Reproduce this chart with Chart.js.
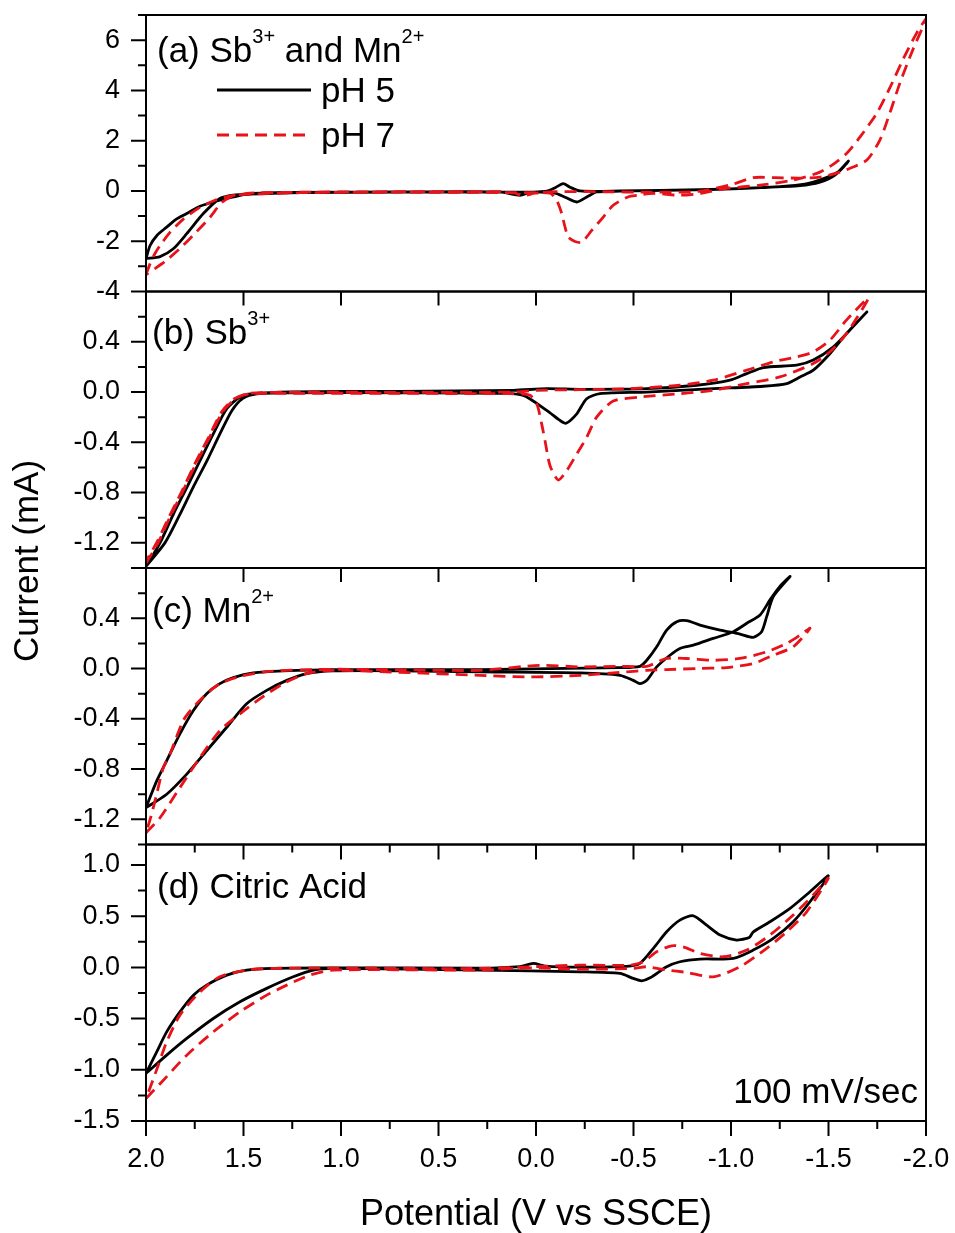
<!DOCTYPE html>
<html>
<head>
<meta charset="utf-8">
<title>Cyclic voltammograms, pH 5 and pH 7</title>
<script src="https://cdn.jsdelivr.net/npm/chart.js@4.4.0/dist/chart.umd.min.js"></script>
<style>
  html, body { margin: 0; padding: 0; background: #fff; }
  #cv { display: block; }
</style>
</head>
<body>
<canvas id="cv" width="955" height="1233"></canvas>
<script>
// Potential (V vs SSCE) and current (mA) along each voltammogram loop

// (a) Sb3+ and Mn2+
const potA5 = [2.000, 1.979, 1.944, 1.894, 1.846, 1.791, 1.723, 1.655, 1.552, 1.467, 1.262, 0.697, 0.185, 0.082, 0.031, -0.055, -0.103, -0.140, -0.174, -0.226, -0.431, -0.841, -1.149, -1.354, -1.456, -1.533, -1.602, -1.559, -1.482, -1.379, -1.251, -1.046, -0.738, -0.431, -0.311, -0.267, -0.209, -0.149, -0.097, -0.021, 0.697, 1.210, 1.467, 1.552, 1.621, 1.706, 1.791, 1.860, 1.928, 2.000];
const curA5 = [-2.69, -2.17, -1.77, -1.44, -1.13, -0.90, -0.61, -0.44, -0.24, -0.11, -0.06, -0.04, -0.04, -0.17, -0.05, -0.01, 0.15, 0.29, 0.15, 0.00, 0.00, 0.05, 0.13, 0.21, 0.35, 0.63, 1.19, 0.81, 0.51, 0.27, 0.17, 0.09, 0.03, -0.01, -0.04, -0.21, -0.44, -0.25, -0.09, -0.05, -0.05, -0.07, -0.13, -0.17, -0.30, -0.90, -1.70, -2.30, -2.61, -2.69];
const potA7 = [2.000, 1.979, 1.954, 1.928, 1.877, 1.810, 1.723, 1.646, 1.569, 1.467, 1.210, 0.697, 0.185, 0.108, 0.067, 0.005, -0.103, -0.328, -0.585, -0.841, -1.010, -1.113, -1.226, -1.354, -1.456, -1.559, -1.626, -1.697, -1.764, -1.815, -1.867, -1.933, -2.000, -1.954, -1.882, -1.815, -1.749, -1.662, -1.595, -1.533, -1.456, -1.318, -1.149, -0.978, -0.841, -0.738, -0.602, -0.523, -0.472, -0.396, -0.345, -0.286, -0.234, -0.200, -0.166, -0.149, -0.132, -0.106, -0.072, 0.031, 0.697, 1.210, 1.467, 1.544, 1.610, 1.672, 1.749, 1.826, 1.903, 1.954, 2.000];
const curA7 = [-3.33, -2.89, -2.49, -2.17, -1.65, -1.13, -0.65, -0.37, -0.21, -0.09, -0.05, -0.03, -0.03, -0.09, -0.19, -0.09, -0.03, -0.03, -0.05, -0.01, 0.27, 0.53, 0.53, 0.51, 0.55, 0.75, 0.95, 1.23, 2.03, 3.11, 4.31, 5.63, 6.83, 6.31, 5.23, 4.11, 3.11, 2.15, 1.51, 1.11, 0.75, 0.43, 0.23, 0.10, -0.10, -0.17, -0.10, -0.17, -0.24, -0.57, -1.04, -1.57, -2.04, -2.01, -1.84, -1.44, -0.90, -0.37, -0.09, -0.07, -0.05, -0.07, -0.13, -0.17, -0.45, -1.05, -1.69, -2.29, -2.81, -3.09, -3.33];

// (b) Sb3+
const potB5 = [2.000, 1.903, 1.826, 1.759, 1.687, 1.621, 1.559, 1.503, 1.431, 1.262, 0.697, 0.185, 0.065, -0.055, -0.123, -0.154, -0.209, -0.260, -0.328, -0.568, -0.909, -1.166, -1.286, -1.354, -1.422, -1.508, -1.593, -1.697, -1.610, -1.525, -1.422, -1.337, -1.166, -1.081, -0.995, -0.824, -0.568, -0.226, -0.055, 0.116, 0.697, 1.262, 1.451, 1.518, 1.586, 1.655, 1.723, 1.791, 1.860, 1.928, 2.000];
const curB5 = [-1.386, -1.200, -0.973, -0.760, -0.546, -0.333, -0.146, -0.050, -0.014, -0.006, -0.006, -0.010, -0.026, -0.146, -0.226, -0.248, -0.173, -0.053, -0.013, 0.000, 0.027, 0.046, 0.067, 0.120, 0.174, 0.307, 0.467, 0.638, 0.494, 0.360, 0.254, 0.214, 0.195, 0.147, 0.094, 0.054, 0.027, 0.022, 0.027, 0.014, 0.006, 0.002, -0.013, -0.040, -0.133, -0.333, -0.546, -0.760, -0.973, -1.200, -1.386];
const potB7 = [2.000, 1.938, 1.877, 1.810, 1.744, 1.672, 1.605, 1.538, 1.467, 1.210, 0.697, 0.287, 0.118, 0.031, -0.004, -0.029, -0.046, -0.072, -0.114, -0.157, -0.209, -0.260, -0.311, -0.396, -0.533, -0.738, -0.909, -1.081, -1.251, -1.422, -1.508, -1.593, -1.704, -1.593, -1.508, -1.422, -1.337, -1.217, -1.081, -0.909, -0.738, -0.482, -0.226, -0.004, 0.116, 0.697, 1.210, 1.467, 1.544, 1.610, 1.677, 1.749, 1.815, 1.882, 1.944, 2.000];
const curB7 = [-1.362, -1.200, -0.994, -0.786, -0.570, -0.354, -0.154, -0.050, -0.014, -0.010, -0.010, -0.013, -0.013, -0.026, -0.093, -0.253, -0.386, -0.586, -0.700, -0.626, -0.493, -0.360, -0.200, -0.072, -0.040, -0.013, 0.014, 0.067, 0.120, 0.227, 0.320, 0.467, 0.747, 0.574, 0.414, 0.320, 0.280, 0.240, 0.174, 0.094, 0.054, 0.027, 0.019, 0.014, 0.000, -0.002, -0.002, -0.010, -0.050, -0.154, -0.354, -0.570, -0.786, -0.994, -1.194, -1.346];

// (c) Mn2+
const potC5 = [2.000, 1.894, 1.791, 1.689, 1.586, 1.484, 1.381, 1.278, 1.176, 1.039, 0.697, 0.287, -0.226, -0.431, -0.499, -0.533, -0.568, -0.619, -0.687, -0.738, -0.807, -0.909, -1.012, -1.081, -1.149, -1.200, -1.251, -1.303, -1.217, -1.183, -1.157, -1.114, -1.046, -0.944, -0.841, -0.773, -0.722, -0.670, -0.619, -0.568, -0.533, -0.431, 0.287, 1.039, 1.296, 1.450, 1.552, 1.621, 1.689, 1.757, 1.826, 1.894, 1.945, 2.000];
const curC5 = [-1.107, -1.000, -0.840, -0.654, -0.467, -0.280, -0.174, -0.094, -0.040, -0.019, -0.018, -0.027, -0.035, -0.054, -0.094, -0.120, -0.094, 0.013, 0.106, 0.160, 0.186, 0.240, 0.293, 0.360, 0.426, 0.546, 0.653, 0.733, 0.573, 0.413, 0.293, 0.248, 0.274, 0.306, 0.346, 0.381, 0.373, 0.306, 0.173, 0.066, 0.018, 0.008, -0.008, -0.008, -0.019, -0.035, -0.072, -0.120, -0.200, -0.334, -0.520, -0.734, -0.894, -1.107];
const potC7 = [2.000, 1.928, 1.826, 1.723, 1.621, 1.518, 1.415, 1.296, 1.176, 1.039, 0.697, 0.287, 0.031, -0.226, -0.465, -0.568, -0.670, -0.824, -0.978, -1.114, -1.217, -1.319, -1.405, -1.354, -1.286, -1.183, -1.046, -0.909, -0.773, -0.670, -0.568, -0.431, -0.226, -0.021, 0.287, 0.697, 1.056, 1.364, 1.518, 1.621, 1.689, 1.757, 1.809, 1.877, 1.911, 1.945, 1.974, 2.000];
const curC7 = [-1.307, -1.187, -0.947, -0.707, -0.494, -0.360, -0.240, -0.120, -0.040, -0.014, -0.030, -0.054, -0.067, -0.054, -0.027, -0.014, -0.008, 0.000, 0.008, 0.040, 0.106, 0.173, 0.320, 0.266, 0.200, 0.133, 0.080, 0.066, 0.080, 0.080, 0.018, 0.018, 0.013, 0.026, -0.014, -0.010, -0.006, -0.022, -0.062, -0.120, -0.200, -0.307, -0.414, -0.680, -0.787, -0.998, -1.174, -1.307];

// (d) Citric Acid
const potD5 = [2.000, 1.894, 1.791, 1.655, 1.518, 1.381, 1.245, 1.142, 1.039, 0.287, -0.226, -0.431, -0.499, -0.542, -0.585, -0.670, -0.738, -0.841, -1.012, -1.114, -1.217, -1.319, -1.405, -1.499, -1.405, -1.303, -1.200, -1.113, -1.097, -1.081, -1.029, -0.944, -0.875, -0.807, -0.738, -0.670, -0.602, -0.533, -0.465, -0.226, -0.046, 0.014, 0.082, 0.287, 1.125, 1.347, 1.484, 1.586, 1.689, 1.757, 1.826, 1.894, 1.945, 2.000];
const curD5 = [-1.036, -0.857, -0.694, -0.499, -0.336, -0.205, -0.092, -0.026, -0.010, -0.026, -0.043, -0.059, -0.108, -0.131, -0.102, 0.006, 0.055, 0.081, 0.088, 0.169, 0.283, 0.446, 0.641, 0.894, 0.739, 0.577, 0.446, 0.345, 0.297, 0.283, 0.267, 0.316, 0.413, 0.504, 0.462, 0.348, 0.186, 0.039, 0.010, 0.003, 0.013, 0.039, 0.008, -0.007, -0.004, -0.010, -0.026, -0.075, -0.173, -0.271, -0.434, -0.630, -0.825, -1.036];
const potD7 = [2.000, 1.911, 1.791, 1.655, 1.518, 1.381, 1.278, 1.159, 1.039, 0.287, 0.031, -0.226, -0.499, -0.568, -0.670, -0.773, -0.909, -1.046, -1.183, -1.286, -1.388, -1.499, -1.422, -1.319, -1.200, -1.081, -0.961, -0.841, -0.755, -0.696, -0.619, -0.550, -0.482, -0.226, 0.287, 1.039, 1.347, 1.484, 1.621, 1.723, 1.826, 1.894, 1.937, 1.971, 2.000];
const curD7 = [-1.280, -1.102, -0.857, -0.630, -0.434, -0.271, -0.173, -0.075, -0.026, -0.026, -0.004, -0.017, -0.010, 0.006, -0.026, -0.049, -0.092, 0.006, 0.186, 0.348, 0.543, 0.870, 0.707, 0.511, 0.316, 0.169, 0.104, 0.137, 0.201, 0.211, 0.152, 0.055, 0.022, 0.022, -0.010, -0.007, -0.010, -0.026, -0.092, -0.239, -0.466, -0.727, -0.955, -1.134, -1.280];

const seriesLabels = ['pH 5', 'pH 7'];
const panelNotes = [
  [{ text: '(a) Sb' }, { text: '3+', sup: true }, { text: ' and Mn' }, { text: '2+', sup: true }],
  [{ text: '(b) Sb' }, { text: '3+', sup: true }],
  [{ text: '(c) Mn' }, { text: '2+', sup: true }],
  [{ text: '(d) Citric Acid' }]
];

const FONT = 'Arial, "Liberation Sans", Helvetica, sans-serif';
const RED = '#e8121a';
const BLACK = '#000000';
const DASH = [12, 7];
const PANEL_AXES = ['ya', 'yb', 'yc', 'yd'];
const MAJOR = { x: 0.5, ya: 2, yb: 0.4, yc: 0.4, yd: 0.5 };

Chart.defaults.font.family = FONT;
Chart.defaults.color = '#000';

function pairs(pot, cur) {
  const n = Math.min(pot.length, cur.length);
  const out = [];
  for (let i = 0; i < n; i++) out.push({ x: pot[i], y: cur[i] });
  return out;
}

function trace(pot, cur, axis, ph7) {
  return {
    label: ph7 ? seriesLabels[1] : seriesLabels[0],
    yAxisID: axis,
    data: pairs(pot, cur),
    borderColor: ph7 ? RED : BLACK,
    borderWidth: 2.8,
    borderDash: ph7 ? DASH : [],
    borderJoinStyle: 'round',
    pointRadius: 0,
    tension: 0.25,
    fill: false,
    order: ph7 ? 0 : 1
  };
}

function isMajor(v, step) {
  const r = v / step;
  return Math.abs(r - Math.round(r)) < 1e-6;
}

function fmt(v, digits) {
  if (Math.abs(v) < 1e-9) v = 0;
  return v.toFixed(digits);
}

function yAxis(id, min, max, step, digits, weight) {
  return {
    type: 'linear',
    position: 'left',
    stack: 'cv',
    stackWeight: 1,
    weight: weight,
    min: min,
    max: max,
    grid: { display: false, drawTicks: false },
    border: { display: false },
    ticks: {
      stepSize: step,
      autoSkip: false,
      includeBounds: false,
      padding: 26,
      font: { size: 27 },
      callback: v => (isMajor(v, MAJOR[id]) && Math.abs(v - max) > 1e-9) ? fmt(v, digits) : ''
    },
    afterFit: s => { s.width = 146; s.paddingTop = 0; s.paddingBottom = 0; }
  };
}

function drawRich(ctx, x, y, parts) {
  parts.forEach(p => {
    ctx.font = (p.sup ? '20px ' : '35px ') + FONT;
    ctx.fillText(p.text, x, p.sup ? y - 19 : y);
    x += ctx.measureText(p.text).width;
  });
}

// panel boxes, tick marks and the in-plot texts
const panelDecor = {
  id: 'panelDecor',
  afterDatasetsDraw(chart) {
    const { ctx, chartArea } = chart;
    const xs = chart.scales.x;
    ctx.save();
    ctx.strokeStyle = '#000';
    ctx.lineWidth = 2;
    PANEL_AXES.forEach(id => {
      const s = chart.scales[id];
      ctx.strokeRect(chartArea.left, s.top, chartArea.right - chartArea.left, s.bottom - s.top);
    });

    ctx.beginPath();
    PANEL_AXES.forEach(id => {
      const s = chart.scales[id];
      s.ticks.forEach(t => {
        const y = s.getPixelForValue(t.value);
        const len = isMajor(t.value, MAJOR[id]) ? 15 : 8;
        ctx.moveTo(chartArea.left - len, y);
        ctx.lineTo(chartArea.left, y);
      });
    });

    const yb = chart.scales.yb, yc = chart.scales.yc, yd = chart.scales.yd;
    xs.ticks.forEach(t => {
      const x = xs.getPixelForValue(t.value);
      const major = isMajor(t.value, MAJOR.x);
      const len = major ? 15 : 8;
      ctx.moveTo(x, yd.bottom);
      ctx.lineTo(x, yd.bottom + len);
      ctx.moveTo(x, yd.top);
      ctx.lineTo(x, yd.top + len);
      if (major) {
        [yb, yc].forEach(s => {
          ctx.moveTo(x, s.top);
          ctx.lineTo(x, s.top + 14);
        });
      }
    });
    ctx.stroke();
    ctx.restore();
  },
  afterDraw(chart) {
    const { ctx, chartArea } = chart;
    const left = chartArea.left;
    const noteDx = [11, 6, 6, 11];
    const noteDy = [47, 52, 54, 53];
    ctx.save();
    ctx.fillStyle = '#000';
    ctx.textAlign = 'left';
    ctx.textBaseline = 'alphabetic';
    panelNotes.forEach((parts, i) => {
      const s = chart.scales[PANEL_AXES[i]];
      drawRich(ctx, left + noteDx[i], s.top + noteDy[i], parts);
    });

    // legend in panel (a)
    const ya = chart.scales.ya;
    [0, 1].forEach(i => {
      const ds = chart.data.datasets[i];
      const y = ya.top + 75 + i * 45;
      ctx.strokeStyle = ds.borderColor;
      ctx.lineWidth = 3;
      ctx.setLineDash(ds.borderDash);
      ctx.beginPath();
      ctx.moveTo(left + 71, y);
      ctx.lineTo(left + 165, y);
      ctx.stroke();
      ctx.setLineDash([]);
      ctx.font = '35px ' + FONT;
      ctx.fillText(ds.label, left + 175, y + 12);
    });

    const yd = chart.scales.yd;
    ctx.textAlign = 'right';
    ctx.font = '35px ' + FONT;
    ctx.fillText('100 mV/sec', chartArea.right - 8, yd.bottom - 18);

    ctx.translate(28, 561);
    ctx.rotate(-Math.PI / 2);
    ctx.textAlign = 'center';
    ctx.textBaseline = 'middle';
    ctx.fillText('Current (mA)', 0, 0);
    ctx.restore();
  }
};

new Chart(document.getElementById('cv'), {
  type: 'line',
  data: {
    datasets: [
      trace(potA5, curA5, 'ya', false),
      trace(potA7, curA7, 'ya', true),
      trace(potB5, curB5, 'yb', false),
      trace(potB7, curB7, 'yb', true),
      trace(potC5, curC5, 'yc', false),
      trace(potC7, curC7, 'yc', true),
      trace(potD5, curD5, 'yd', false),
      trace(potD7, curD7, 'yd', true)
    ]
  },
  options: {
    responsive: false,
    animation: false,
    devicePixelRatio: 1,
    layout: { autoPadding: false, padding: { top: 15, right: 29, bottom: 0, left: 0 } },
    plugins: { legend: { display: false }, tooltip: { enabled: false } },
    scales: {
      x: {
        type: 'linear',
        position: 'bottom',
        min: -2,
        max: 2,
        reverse: true,
        grid: { display: false, drawTicks: false },
        border: { display: false },
        ticks: {
          stepSize: 0.25,
          autoSkip: false,
          maxRotation: 0,
          padding: 22,
          font: { size: 27 },
          callback: v => isMajor(v, MAJOR.x) ? fmt(v, 1) : ''
        },
        title: {
          display: true,
          text: 'Potential (V vs SSCE)',
          font: { size: 36, lineHeight: 1 },
          padding: { top: 0, bottom: 0 }
        },
        afterFit: s => { s.height = 112; s.paddingLeft = 0; s.paddingRight = 0; }
      },
      ya: yAxis('ya', -4, 7, 1, 0, 4),
      yb: yAxis('yb', -1.4, 0.8, 0.2, 1, 3),
      yc: yAxis('yc', -1.4, 0.8, 0.2, 1, 2),
      yd: yAxis('yd', -1.5, 1.2, 0.25, 1, 1)
    }
  },
  plugins: [panelDecor]
});
</script>
</body>
</html>
